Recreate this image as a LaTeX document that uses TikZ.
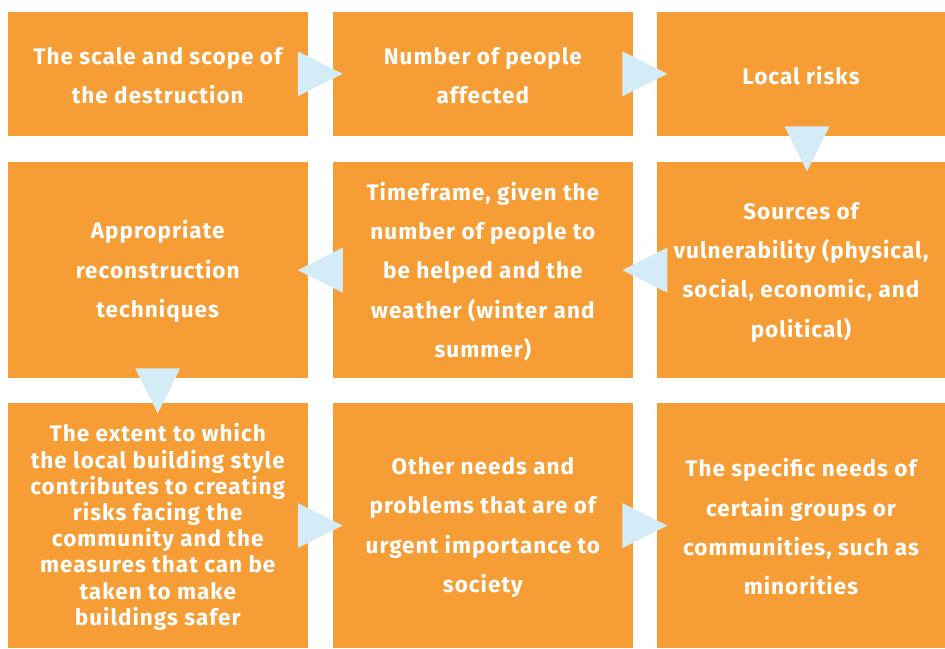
\documentclass[tikz,border=0pt]{standalone}
\usepackage{fontspec}
\setmainfont{Fira Sans}
\newfontfamily\stagefont[LetterSpace=4.5]{Fira Sans}
\usetikzlibrary{calc}

\definecolor{boxorange}{HTML}{F69D35}
\definecolor{tripale}{HTML}{D4ECF7}

\tikzset{
    stage/.style={fill=boxorange, text=white, align=center, inner sep=0pt,
        font=\stagefont\bfseries\fontsize{22.5}{39.3}\selectfont},
    stagetight/.style={stage, font=\stagefont\bfseries\fontsize{22.5}{26.2}\selectfont},
    tri/.style={fill=tripale},
}

\begin{document}
\begin{tikzpicture}[x=1pt, y=-1pt]
    \useasboundingbox (0,0) rectangle (945,648);

    % column and row centres
    \coordinate (c1r1) at (157.75, 73.85);
    \coordinate (c2r1) at (482.85, 73.85);
    \coordinate (c3r1) at (801.0, 73.85);
    \coordinate (c1r2) at (157.75, 270.15);
    \coordinate (c2r2) at (482.85, 270.15);
    \coordinate (c3r2) at (801.0, 270.15);
    \coordinate (c1r3) at (157.75, 525.6);
    \coordinate (c2r3) at (482.85, 525.6);
    \coordinate (c3r3) at (801.0, 525.6);

    % first row
    \node[stage, minimum width=299.5pt, minimum height=123.7pt] (scale) at (c1r1) {\rule{0pt}{21pt}The scale and scope of\\the destruction};
    \node[stage, minimum width=299.7pt, minimum height=123.7pt] (people) at (c2r1) {\rule{0pt}{21pt}Number of people\\affected};
    \node[stage, minimum width=288pt, minimum height=123.7pt] (risks) at (c3r1) {\rule{0pt}{21pt}Local risks};

    % second row
    \node[stage, minimum width=299.5pt, minimum height=216.3pt] (techniques) at (c1r2) {\rule{0pt}{21pt}Appropriate\\reconstruction\\techniques};
    \node[stage, minimum width=299.7pt, minimum height=216.3pt] (timeframe) at (c2r2) {\rule{0pt}{21pt}Timeframe, given the\\number of people to\\be helped and the\\weather (winter and\\summer)};
    \node[stage, minimum width=288pt, minimum height=216.3pt] (sources) at (c3r2) {\rule{0pt}{21pt}Sources of\\vulnerability (physical,\\social, economic, and\\political)};

    % third row
    \node[stagetight, minimum width=299.5pt, minimum height=244.7pt] (style) at (c1r3) {\rule{0pt}{21pt}The extent to which\\the local building style\\contributes to creating\\risks facing the\\community and the\\measures that can be\\taken to make\\buildings safer};
    \node[stage, minimum width=299.7pt, minimum height=244.7pt] (needs) at (c2r3) {\rule{0pt}{21pt}Other needs and\\problems that are of\\urgent importance to\\society};
    \node[stage, minimum width=288pt, minimum height=244.7pt] (groups) at (c3r3) {\rule{0pt}{21pt}The specific needs of\\certain groups or\\communities, such as\\minorities};

    % arrows between the boxes
    \fill[tri] ($(scale.east)!0.5!(people.west)$) ++(-22.5,-22.5) -- ++(45,22.5) -- ++(-45,22.5) -- cycle;
    \fill[tri] ($(people.east)!0.5!(risks.west)$) ++(-22.5,-22.5) -- ++(45,22.5) -- ++(-45,22.5) -- cycle;
    \fill[tri] ($(risks.south)!0.5!(sources.north)$) ++(6,0) ++(-22.5,-22.5) -- ++(45,0) -- ++(-22.5,45) -- cycle;
    \fill[tri] ($(sources.west)!0.5!(timeframe.east)$) ++(22.5,-22.5) -- ++(0,45) -- ++(-45,-22.5) -- cycle;
    \fill[tri] ($(timeframe.west)!0.5!(techniques.east)$) ++(22.5,-22.5) -- ++(0,45) -- ++(-45,-22.5) -- cycle;
    \fill[tri] ($(techniques.south)!0.5!(style.north)$) ++(-22.5,-22.5) -- ++(45,0) -- ++(-22.5,45) -- cycle;
    \fill[tri] ($(style.east)!0.5!(needs.west)$) ++(-22.5,-22.5) -- ++(45,22.5) -- ++(-45,22.5) -- cycle;
    \fill[tri] ($(needs.east)!0.5!(groups.west)$) ++(-22.5,-22.5) -- ++(45,22.5) -- ++(-45,22.5) -- cycle;
\end{tikzpicture}
\end{document}
